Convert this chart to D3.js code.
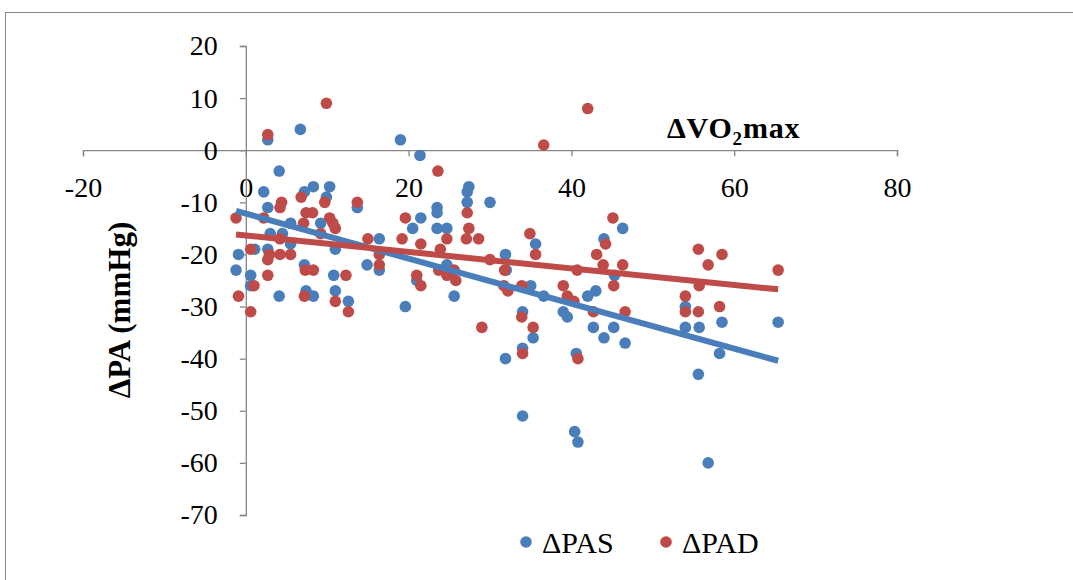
<!DOCTYPE html>
<html>
<head>
<meta charset="utf-8">
<script src="https://cdn.jsdelivr.net/npm/d3@7"></script>
<style>
  body { margin: 0; background: #fff; }
</style>
</head>
<body>
<div id="chart"></div>
<script>
"use strict";

// ΔVO2max vs ΔPAS (blue) and ΔPAD (red)
var pasPoints = [
  [-1.2, -23], [-0.9, -20], [0.6, -24], [0.6, -26], [1.1, -19], [2.2, -8], [2.7, 2], [2.7, -11],
  [2.7, -19], [3, -16], [4.1, -4], [4.1, -28], [4.5, -16], [5.5, -14], [5.5, -18], [6.7, 4],
  [7.2, -8], [7.2, -22], [7.4, -27], [8.3, -7], [8.3, -28], [9.2, -14], [9.9, -9], [10.3, -7],
  [10.8, -24], [11, -19], [11, -27], [12.6, -29], [13.7, -11], [14.9, -22], [16.4, -17], [16.4, -23],
  [19, 2], [19.6, -30], [20.5, -15], [21, -25], [21.4, -1], [21.5, -13], [23.5, -11], [23.5, -12],
  [23.5, -15], [24.7, -15], [24.7, -22], [25.6, -28], [27.2, -10], [27.2, -8], [27.4, -7], [30, -10],
  [31.9, -20], [32, -23], [31.9, -40], [34, -31], [34, -38], [34, -51], [35, -26], [35.3, -36],
  [35.6, -18], [36.6, -28], [39, -31], [39.5, -32], [40.4, -54], [40.6, -39], [40.8, -56], [42, -28],
  [42.7, -34], [43, -27], [44, -17], [44, -36], [45.2, -34], [45.3, -24], [46.3, -15], [46.6, -37],
  [54, -30], [54, -34], [55.6, -43], [55.7, -34], [56.8, -60], [58.2, -39], [58.5, -33], [65.4, -33]
];

var padPoints = [
  [-1.2, -13], [-0.9, -28], [0.6, -19], [0.6, -31], [1, -26], [2.2, -13], [2.7, 3], [2.9, -20],
  [2.7, -21], [2.7, -24], [4.2, -11], [4.4, -10], [4.2, -17], [4.2, -20], [5.5, -20], [6.8, -9],
  [7.1, -14], [7.4, -12], [7.3, -23], [7.2, -28], [8.2, -12], [8.3, -23], [9.2, -16], [9.7, -10],
  [9.9, 9], [10.3, -13], [10.7, -14], [11, -15], [11, -29], [12.3, -24], [12.6, -31], [13.7, -10],
  [15, -17], [16.4, -20], [16.4, -22], [19.2, -17], [19.6, -13], [21, -24], [21.5, -18], [21.5, -26],
  [23.6, -4], [23.7, -23], [23.9, -19], [24.7, -17], [24.7, -24], [25.6, -23], [25.8, -25], [27.2, -12],
  [27.4, -15], [27.1, -17], [28.6, -17], [29, -34], [30, -21], [31.8, -23], [31.7, -26], [32.2, -27],
  [33.9, -26], [33.9, -32], [34, -39], [34.9, -16], [35.3, -34], [35.6, -20], [36.6, 1], [39, -26],
  [39.5, -28], [40.3, -29], [40.7, -23], [40.8, -40], [42, 8], [42.7, -31], [43.1, -20], [43.9, -22],
  [44.2, -18], [45.1, -13], [45.2, -26], [46.3, -22], [46.6, -31], [54, -28], [54, -31], [55.6, -19],
  [55.7, -26], [55.6, -31], [56.8, -22], [58.5, -20], [58.2, -30], [65.4, -23]
];

var xTicks = [-20, 0, 20, 40, 60, 80];
var yTicks = [20, 10, 0, -10, -20, -30, -40, -50, -60, -70];

var series = [
  { name: "ΔPAS", color: "#4A7EBB", points: pasPoints },
  { name: "ΔPAD", color: "#BE4B48", points: padPoints }
];

var width = 1073, height = 580;
var serif = "Liberation Serif";

var svg = d3.select("#chart").append("svg")
    .attr("width", width)
    .attr("height", height);

// chart area frame
svg.append("rect")
    .attr("x", 5.5).attr("y", 12.5)
    .attr("width", 1100).attr("height", 620)
    .attr("fill", "none")
    .attr("stroke", "#868686")
    .attr("stroke-width", 1);

var x = d3.scaleLinear().domain([-20, 80]).range([83, 897]);
var y = d3.scaleLinear().domain([-70, 20]).range([515, 46]);

// x axis crosses at y = 0
svg.append("g")
    .attr("class", "axis axis--x")
    .attr("transform", "translate(0," + y(0) + ")")
    .call(d3.axisBottom(x).tickValues(xTicks).tickSize(6).tickPadding(21).tickFormat(function(d) { return String(d); }));

// y axis crosses at x = 0
svg.append("g")
    .attr("class", "axis axis--y")
    .attr("transform", "translate(" + x(0) + ",0)")
    .call(d3.axisLeft(y).tickValues(yTicks).tickSize(6).tickPadding(22).tickFormat(function(d) { return String(d); }));

svg.selectAll(".axis path, .axis line")
    .attr("stroke", "#868686")
    .attr("stroke-width", 1.3);
svg.selectAll(".axis text")
    .style("font-family", serif)
    .style("font-size", "28px")
    .attr("fill", "#000");

// least-squares trend lines
function fit(pts) {
  var mx = d3.mean(pts, function(p) { return p[0]; });
  var my = d3.mean(pts, function(p) { return p[1]; });
  var sxy = d3.sum(pts, function(p) { return (p[0] - mx) * (p[1] - my); });
  var sxx = d3.sum(pts, function(p) { return (p[0] - mx) * (p[0] - mx); });
  var b = sxy / sxx;
  return { a: my - b * mx, b: b };
}

var plot = svg.append("g");

series.forEach(function(s) {
  plot.selectAll(".dot-" + s.name)
    .data(s.points)
    .enter().append("circle")
      .attr("cx", function(d) { return x(d[0]); })
      .attr("cy", function(d) { return y(d[1]); })
      .attr("r", 5.8)
      .attr("fill", s.color);
});

series.forEach(function(s) {
  var f = fit(s.points);
  var ext = d3.extent(s.points, function(p) { return p[0]; });
  plot.append("line")
      .attr("x1", x(ext[0])).attr("y1", y(f.a + f.b * ext[0]))
      .attr("x2", x(ext[1])).attr("y2", y(f.a + f.b * ext[1]))
      .attr("stroke", s.color)
      .attr("stroke-width", 6);
});

// axis titles
var xt = svg.append("text")
    .attr("x", 667).attr("y", 138)
    .style("font-family", serif)
    .style("font-size", "30px")
    .style("font-weight", "bold")
    .style("letter-spacing", "0.8px");
xt.append("tspan").text("ΔVO");
xt.append("tspan").style("font-size", "19px").attr("dy", 7).text("2");
xt.append("tspan").attr("dy", -7).text("max");

svg.append("text")
    .attr("transform", "translate(130,310) rotate(-90)")
    .attr("text-anchor", "middle")
    .style("font-family", serif)
    .style("font-size", "31px")
    .style("font-weight", "bold")
    .text("ΔPA (mmHg)");

// legend
var legend = svg.append("g").attr("transform", "translate(526,542)");
var item = legend.selectAll(".item")
    .data(series)
    .enter().append("g")
      .attr("transform", function(d, i) { return "translate(" + (i * 140) + ",0)"; });
item.append("circle").attr("r", 5.8).attr("fill", function(d) { return d.color; });
item.append("text")
    .attr("x", 16).attr("y", 11)
    .style("font-family", serif)
    .style("font-size", "30px")
    .text(function(d) { return d.name; });
</script>
</body>
</html>
